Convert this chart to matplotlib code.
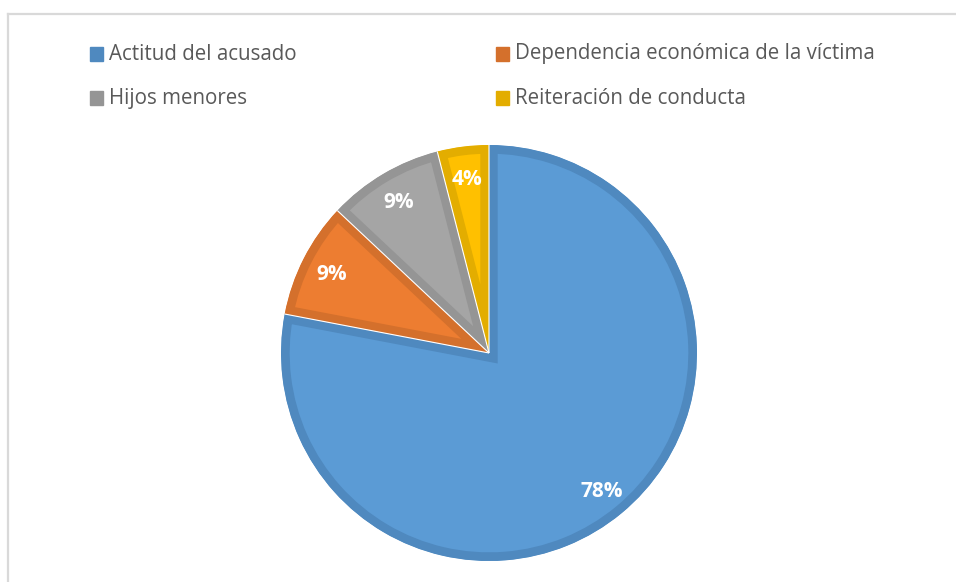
import matplotlib
matplotlib.use("Agg")
import matplotlib.pyplot as plt
from matplotlib.patches import Rectangle
from matplotlib.lines import Line2D
import numpy as np

categories = ["Actitud del acusado", "Dependencia económica de la víctima",
              "Hijos menores", "Reiteración de conducta"]
values = [78, 9, 9, 4]
labels = ["78%", "9%", "9%", "4%"]
fill_colors = ["#5B9BD5", "#ED7D31", "#A5A5A5", "#FFC000"]
edge_colors = ["#4F89BF", "#D4702C", "#959595", "#E3AD00"]

W, H = 956, 582
fig = plt.figure(figsize=(W / 100, H / 100), dpi=100)
fig.patch.set_facecolor("white")

# frame
fig.add_artist(Line2D([7.5 / W, 1.0], [1 - 13.5 / H, 1 - 13.5 / H], color="#D9D9D9", lw=1.6,
                      transform=fig.transFigure))
fig.add_artist(Line2D([7.5 / W, 7.5 / W], [0, 1 - 13.5 / H], color="#D9D9D9", lw=1.6,
                      transform=fig.transFigure))

cx, cy, r = 489, 353, 208
ax = fig.add_axes([(cx - r) / W, 1 - (cy + r) / H, 2 * r / W, 2 * r / H])
wedges, _ = ax.pie(values, colors=fill_colors, startangle=90, counterclock=False,
                   radius=1.0)
for w, ec in zip(wedges, edge_colors):
    w.set_edgecolor(ec)
    w.set_linewidth(12.5)
    w.set_clip_on(True)
    w.set_clip_path(w)

# thin white radial separators between wedges
for w in wedges:
    a = np.deg2rad(w.theta1)
    ax.plot([0, np.cos(a)], [0, np.sin(a)], color="white", lw=0.8, solid_capstyle="butt")

total = sum(values)
start = 90.0
for v, lab in zip(values, labels):
    mid = np.deg2rad(start - v / total * 360 / 2)
    start -= v / total * 360
    ax.text(0.85 * np.cos(mid), 0.85 * np.sin(mid) - 0.01, lab, ha="center", va="center",
            color="white", fontsize=15, fontweight="bold", family="Open Sans")
ax.set_xlim(-1, 1)
ax.set_ylim(-1, 1)
ax.set_aspect("equal")
ax.axis("off")

# legend (2 columns, row-major)
col_x = [90, 496]
row_y = [54, 98]
for i, (cat, c) in enumerate(zip(categories, edge_colors)):
    x = col_x[i % 2]
    y = row_y[i // 2]
    fig.add_artist(Rectangle((x / W, 1 - (y + 6.5) / H), 13 / W, 13 / H, color=c,
                             transform=fig.transFigure))
    fig.text((x + 19) / W, 1 - y / H, cat, ha="left", va="center", fontsize=14.8,
             color="#595959", family="Open Sans")

fig.savefig("out.png", dpi=100, facecolor="white")
